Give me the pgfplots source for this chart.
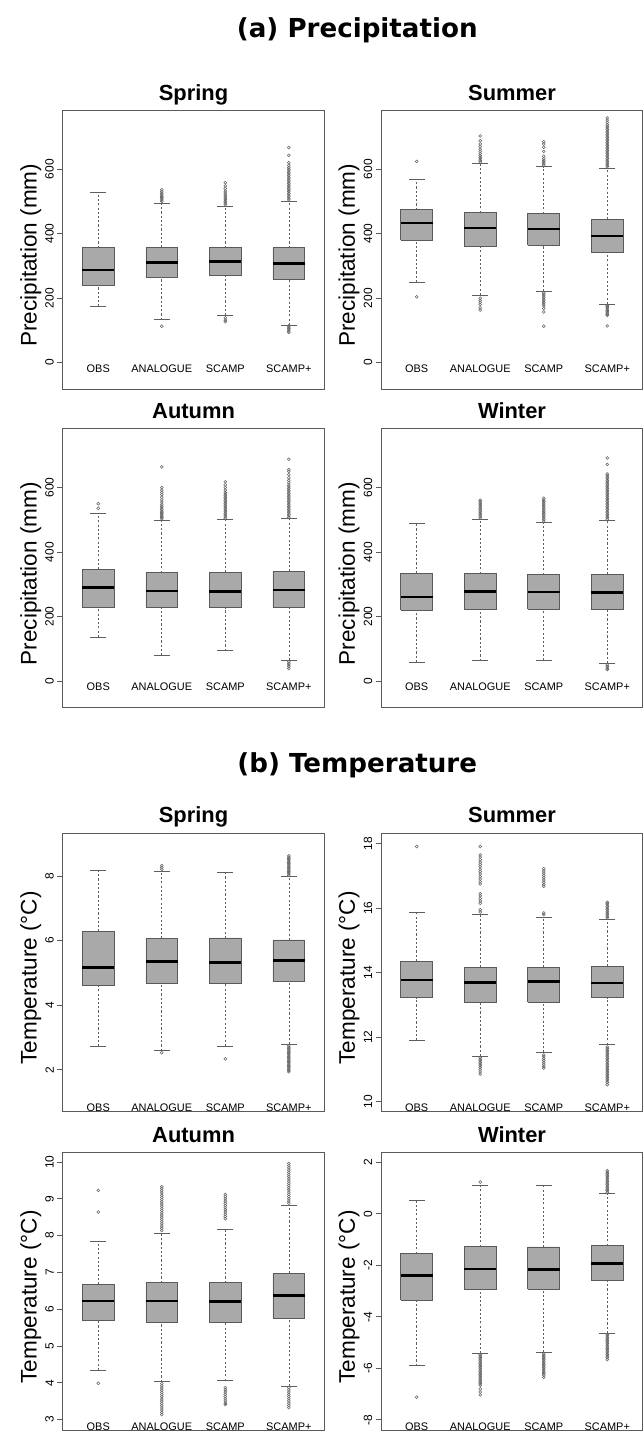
\documentclass[border=0pt]{standalone}
\usepackage{pgfplots}
\pgfplotsset{compat=1.18}
\usepackage{fontspec}
\setmainfont{Liberation Sans}
\newfontfamily\titlefont{DejaVu Sans}
\definecolor{boxfill}{RGB}{169,169,169}
\definecolor{framegray}{RGB}{90,90,90}
\definecolor{whiskgray}{RGB}{95,95,95}

\pgfplotsset{
  whisk/.style={draw=whiskgray, line width=0.5pt, dash pattern=on 1.6pt off 1.6pt, no marks},
  capst/.style={only marks, mark=-, mark size=5.98pt, mark options={draw=whiskgray, line width=0.6pt, solid}},
  boxst/.style={draw=framegray, fill=boxfill, line width=0.6pt, solid, no marks},
  medst/.style={only marks, mark=-, mark size=11.97pt, mark options={draw=black, line width=1.9pt, solid}},
  outl/.style={only marks, mark=o, mark size=1.1pt, mark options={draw=black!60, line width=0.4pt, solid, fill=none}},
  panel/.style={
    scale only axis, width=197.25pt, height=210pt, anchor=north west,
    xmin=0.44, xmax=4.56,
    xtick={1,2,3,4}, xticklabels={OBS,ANALOGUE,SCAMP,SCAMP+},
    major x tick style={draw=none},
    ytick pos=left,
    tick align=outside, major tick length=4pt,
    yticklabel style={font=\fontsize{9}{10}\selectfont, rotate=90, anchor=south, inner sep=2.5pt},
    /pgf/number format/assume math mode=true,
    axis line style={framegray, line width=0.6pt},
    major y tick style={framegray, line width=0.6pt},
    title style={font=\fontsize{16.5}{18}\selectfont\bfseries, anchor=base, yshift=1.5pt},
    every axis y label/.style={at={(axis description cs:-0.10,0.48)}, rotate=90, anchor=base, font=\fontsize{17}{20}\selectfont},
  },
  precip/.style={panel, ymin=-82, ymax=782, ytick={0,200,400,600}, ylabel={Precipitation (mm)},
    xticklabel style={font=\fontsize{8.25}{9}\selectfont, anchor=base, yshift=16.5pt}},
  tempA/.style={panel, ylabel={Temperature (°C)},
    xticklabel style={font=\fontsize{8.25}{9}\selectfont, anchor=base, yshift=3.75pt}},
  tempB/.style={panel, ylabel={Temperature (°C)},
    xticklabel style={font=\fontsize{8.25}{9}\selectfont, anchor=base, yshift=4.5pt}},
}
% box: left edge, centre, right edge, lower whisker, Q1, median, Q3, upper whisker
\newcommand\bx[8]{%
  \addplot[whisk] coordinates {(#2,#4) (#2,#5)};
  \addplot[whisk] coordinates {(#2,#7) (#2,#8)};
  \addplot[capst] coordinates {(#2,#4) (#2,#8)};
  \addplot[boxst] coordinates {(#1,#5) (#3,#5) (#3,#7) (#1,#7) (#1,#5)};
  \addplot[medst] coordinates {(#2,#6)};
}
% outliers: centre, values
\newcommand\ol[2]{\addplot[outl] table[row sep=\\, header=false, x expr=#1, y index=0] {#2};}

\begin{document}
\begin{tikzpicture}
\node[anchor=base, font=\titlefont\bfseries\fontsize{19.7}{22}\selectfont] at (269.25pt,-28.1pt) {(a) Precipitation};
\node[anchor=base, font=\titlefont\bfseries\fontsize{19.7}{22}\selectfont] at (269.25pt,-582pt) {(b) Temperature};

% ---------- Precipitation: Spring
\begin{axis}[precip, at={(47.25pt,-83.25pt)}, title={Spring}]
\bx{0.75}{1}{1.25}{174}{241}{288}{356}{528}
\bx{1.75}{2}{2.25}{133}{265}{311}{357}{494}
\bx{2.75}{3}{3.25}{147}{272}{313}{356}{484}
\bx{3.75}{4}{4.25}{117}{258}{307}{356}{500}
\ol{2}{500\\504\\508\\512\\516\\520\\525\\530\\536\\113\\}
\ol{3}{490\\495\\500\\505\\510\\515\\520\\526\\532\\540\\548\\558\\139\\132\\127\\}
\ol{4}{505\\510\\515\\520\\525\\530\\535\\540\\545\\550\\555\\560\\565\\570\\575\\580\\585\\590\\595\\600\\605\\612\\620\\643\\667\\114\\110\\106\\102\\98\\94\\}
\end{axis}

% ---------- Precipitation: Summer
\begin{axis}[precip, at={(287.25pt,-83.25pt)}, title={Summer}]
\bx{0.75}{1}{1.25}{250}{379}{433}{474}{569}
\bx{1.75}{2}{2.25}{210}{361}{417}{465}{617}
\bx{2.75}{3}{3.25}{222}{365}{415}{462}{607}
\bx{3.75}{4}{4.25}{182}{342}{392}{445}{603}
\ol{1}{624\\204\\}
\ol{2}{622\\627\\632\\637\\642\\648\\655\\662\\670\\678\\688\\703\\200\\193\\187\\180\\170\\163\\}
\ol{3}{612\\617\\622\\627\\632\\640\\655\\668\\678\\685\\217\\212\\207\\202\\197\\192\\187\\182\\176\\168\\157\\113\\}
\ol{4}{608\\613\\618\\623\\628\\633\\638\\643\\648\\653\\658\\663\\668\\673\\678\\683\\688\\693\\698\\703\\708\\713\\718\\723\\728\\733\\738\\745\\752\\759\\178\\174\\170\\166\\162\\158\\154\\150\\147\\114\\}
\end{axis}

% ---------- Precipitation: Autumn
\begin{axis}[precip, at={(47.25pt,-323.25pt)}, title={Autumn}]
\bx{0.75}{1}{1.25}{137}{228}{290}{347}{521}
\bx{1.75}{2}{2.25}{80}{228}{279}{336}{497}
\bx{2.75}{3}{3.25}{94}{228}{278}{337}{501}
\bx{3.75}{4}{4.25}{65}{228}{283}{340}{503}
\ol{1}{536\\550\\}
\ol{2}{503\\507\\511\\515\\519\\523\\527\\532\\537\\542\\548\\555\\562\\570\\578\\585\\592\\600\\664\\}
\ol{3}{505\\510\\515\\520\\525\\530\\535\\540\\545\\550\\555\\560\\565\\570\\575\\580\\585\\592\\600\\608\\618\\}
\ol{4}{507\\512\\517\\522\\527\\532\\537\\542\\547\\552\\557\\562\\567\\572\\577\\582\\587\\592\\597\\602\\608\\615\\622\\630\\640\\650\\656\\688\\60\\55\\50\\45\\39\\}
\end{axis}

% ---------- Precipitation: Winter
\begin{axis}[precip, at={(287.25pt,-323.25pt)}, title={Winter}]
\bx{0.75}{1}{1.25}{59}{220}{261}{335}{490}
\bx{1.75}{2}{2.25}{63}{223}{278}{333}{502}
\bx{2.75}{3}{3.25}{65}{223}{276}{330}{491}
\bx{3.75}{4}{4.25}{56}{223}{275}{331}{498}
\ol{2}{506\\511\\516\\521\\526\\531\\536\\541\\546\\551\\556\\561\\}
\ol{3}{496\\501\\506\\511\\516\\521\\526\\531\\536\\541\\546\\551\\556\\561\\567\\}
\ol{4}{502\\507\\512\\517\\522\\527\\532\\537\\542\\547\\552\\557\\562\\567\\572\\577\\582\\587\\592\\597\\602\\607\\612\\617\\622\\627\\632\\637\\642\\672\\692\\50\\45\\40\\36\\}
\end{axis}

% ---------- Temperature: Spring
\begin{axis}[tempA, at={(47.25pt,-627.75pt)}, title={Spring}, ymin=0.71, ymax=9.33, ytick={2,4,6,8}]
\bx{0.75}{1}{1.25}{2.72}{4.60}{5.17}{6.28}{8.16}
\bx{1.75}{2}{2.25}{2.59}{4.67}{5.35}{6.06}{8.13}
\bx{2.75}{3}{3.25}{2.74}{4.67}{5.32}{6.08}{8.10}
\bx{3.75}{4}{4.25}{2.79}{4.73}{5.39}{6.02}{7.97}
\ol{2}{8.20\\8.26\\8.32\\2.53\\}
\ol{3}{2.34\\}
\ol{4}{8.02\\8.06\\8.10\\8.14\\8.18\\8.22\\8.26\\8.30\\8.34\\8.38\\8.42\\8.46\\8.50\\8.54\\8.58\\8.62\\2.74\\2.70\\2.66\\2.62\\2.58\\2.54\\2.50\\2.46\\2.42\\2.38\\2.34\\2.30\\2.26\\2.22\\2.18\\2.14\\2.10\\2.06\\2.02\\1.98\\1.94\\}
\end{axis}

% ---------- Temperature: Summer
\begin{axis}[tempA, at={(287.25pt,-627.75pt)}, title={Summer}, ymin=9.70, ymax=18.33, ytick={10,12,14,16,18}]
\bx{0.75}{1}{1.25}{11.90}{13.23}{13.77}{14.36}{15.87}
\bx{1.75}{2}{2.25}{11.42}{13.08}{13.70}{14.16}{15.81}
\bx{2.75}{3}{3.25}{11.53}{13.08}{13.72}{14.16}{15.71}
\bx{3.75}{4}{4.25}{11.77}{13.22}{13.68}{14.19}{15.66}
\ol{1}{17.91\\}
\ol{2}{17.91\\17.65\\17.58\\17.50\\17.42\\17.35\\17.28\\17.20\\17.13\\17.06\\16.98\\16.90\\16.82\\16.75\\16.45\\16.38\\16.30\\16.22\\16.15\\15.95\\15.88\\11.37\\11.32\\11.27\\11.22\\11.17\\11.12\\11.06\\11.00\\10.93\\10.86\\}
\ol{3}{17.22\\17.15\\17.08\\17.01\\16.94\\16.87\\16.80\\16.73\\16.68\\15.85\\15.80\\11.45\\11.40\\11.34\\11.28\\11.22\\11.16\\11.10\\11.05\\}
\ol{4}{15.70\\15.75\\15.80\\15.85\\15.90\\15.95\\16.00\\16.05\\16.10\\16.15\\16.18\\11.70\\11.65\\11.60\\11.55\\11.50\\11.45\\11.40\\11.35\\11.30\\11.25\\11.20\\11.15\\11.10\\11.05\\11.00\\10.95\\10.90\\10.85\\10.80\\10.75\\10.70\\10.65\\10.60\\10.53\\}
\end{axis}

% ---------- Temperature: Autumn
\begin{axis}[tempB, at={(47.25pt,-868.3pt)}, title={Autumn}, ymin=2.70, ymax=10.27, ytick={3,4,5,6,7,8,9,10}]
\bx{0.75}{1}{1.25}{4.35}{5.69}{6.23}{6.68}{7.85}
\bx{1.75}{2}{2.25}{4.03}{5.64}{6.23}{6.72}{8.07}
\bx{2.75}{3}{3.25}{4.06}{5.63}{6.21}{6.72}{8.18}
\bx{3.75}{4}{4.25}{3.91}{5.75}{6.38}{6.97}{8.81}
\ol{1}{9.23\\8.64\\3.99\\}
\ol{2}{8.14\\8.20\\8.26\\8.32\\8.38\\8.44\\8.50\\8.56\\8.62\\8.68\\8.74\\8.80\\8.86\\8.92\\8.98\\9.04\\9.10\\9.16\\9.22\\9.28\\9.33\\3.98\\3.92\\3.86\\3.80\\3.74\\3.68\\3.62\\3.56\\3.50\\3.44\\3.38\\3.32\\3.26\\3.20\\3.14\\}
\ol{3}{8.46\\8.52\\8.58\\8.64\\8.70\\8.76\\8.82\\8.88\\8.94\\9.00\\9.06\\9.12\\3.87\\3.81\\3.75\\3.69\\3.63\\3.57\\3.51\\3.45\\3.41\\}
\ol{4}{8.88\\8.94\\9.00\\9.06\\9.12\\9.18\\9.24\\9.30\\9.36\\9.42\\9.48\\9.54\\9.60\\9.66\\9.72\\9.78\\9.84\\9.90\\9.96\\3.87\\3.81\\3.75\\3.69\\3.63\\3.57\\3.51\\3.45\\3.39\\3.33\\}
\end{axis}

% ---------- Temperature: Winter
\begin{axis}[tempB, at={(287.25pt,-868.3pt)}, title={Winter}, ymin=-8.42, ymax=2.39, ytick={-8,-6,-4,-2,0,2}]
\bx{0.75}{1}{1.25}{-5.90}{-3.35}{-2.39}{-1.55}{0.52}
\bx{1.75}{2}{2.25}{-5.41}{-2.93}{-2.14}{-1.28}{1.09}
\bx{2.75}{3}{3.25}{-5.37}{-2.93}{-2.17}{-1.29}{1.09}
\bx{3.75}{4}{4.25}{-4.63}{-2.60}{-1.93}{-1.24}{0.78}
\ol{1}{-7.12\\}
\ol{2}{1.23\\-5.46\\-5.52\\-5.58\\-5.64\\-5.70\\-5.76\\-5.82\\-5.88\\-5.94\\-6.00\\-6.06\\-6.12\\-6.18\\-6.24\\-6.30\\-6.36\\-6.42\\-6.48\\-6.54\\-6.60\\-6.66\\-6.80\\-6.92\\-7.03\\}
\ol{3}{-5.43\\-5.49\\-5.55\\-5.61\\-5.67\\-5.73\\-5.79\\-5.85\\-5.91\\-5.97\\-6.03\\-6.09\\-6.15\\-6.21\\-6.27\\-6.35\\}
\ol{4}{0.83\\0.89\\0.95\\1.01\\1.07\\1.13\\1.19\\1.25\\1.31\\1.37\\1.43\\1.49\\1.55\\1.61\\1.67\\-4.68\\-4.74\\-4.80\\-4.86\\-4.92\\-4.98\\-5.04\\-5.10\\-5.16\\-5.22\\-5.28\\-5.34\\-5.40\\-5.46\\-5.52\\-5.58\\-5.66\\}
\end{axis}
\path[use as bounding box] (0pt,0pt) rectangle (483.75pt,-1077pt);
\end{tikzpicture}
\end{document}
